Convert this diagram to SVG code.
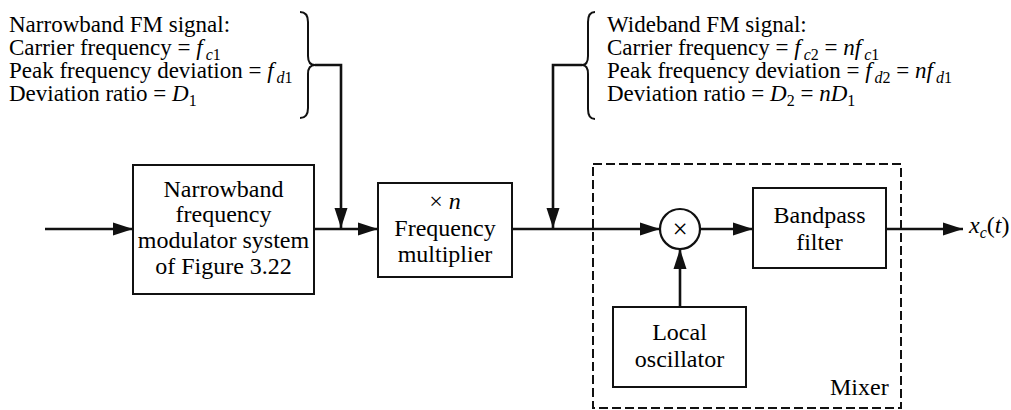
<svg xmlns="http://www.w3.org/2000/svg" width="1011" height="410" viewBox="0 0 1011 410" font-family="'Liberation Serif', 'DejaVu Serif', serif">
<style>
text{font-family:'Liberation Serif','DejaVu Serif',serif;font-size:23px;fill:#000}
.b{font-size:24px}
.c{text-anchor:middle}
.i{font-style:italic}
.s{font-size:16px}
.box{fill:none;stroke:#111;stroke-width:2}
.wire{fill:none;stroke:#111;stroke-width:2.6}
.brace{fill:none;stroke:#111;stroke-width:2}
.dash{fill:none;stroke:#111;stroke-width:2;stroke-dasharray:9 4}
</style>
<defs>
<marker id="ah" markerUnits="userSpaceOnUse" markerWidth="22" markerHeight="14" refX="20" refY="7" orient="auto">
<path d="M0,0.5 L20,7 L0,13.5 Z" fill="#111"/>
</marker>
</defs>

<g id="nb-label">
<text x="9" y="32">Narrowband FM signal:</text>
<text x="9" y="55">Carrier frequency = <tspan class="i">f</tspan><tspan class="s" dx="3" dy="5"><tspan class="i">c</tspan>1</tspan></text>
<text x="9" y="78">Peak frequency deviation = <tspan class="i">f</tspan><tspan class="s" dx="3" dy="5"><tspan class="i">d</tspan>1</tspan></text>
<text x="9" y="101">Deviation ratio = <tspan class="i">D</tspan><tspan class="s" dy="5">1</tspan></text>
<path class="brace" d="M300,12 Q308,12 308,22 L308,56 Q308,65 315,65 Q308,65 308,74 L308,108 Q308,118 300,118"/>
</g>

<g id="wb-label">
<text x="607" y="32">Wideband FM signal:</text>
<text x="607" y="55">Carrier frequency = <tspan class="i">f</tspan><tspan class="s" dx="3" dy="5"><tspan class="i">c</tspan>2</tspan><tspan dy="-5"> = </tspan><tspan class="i">nf</tspan><tspan class="s" dx="3" dy="5"><tspan class="i">c</tspan>1</tspan></text>
<text x="607" y="78">Peak frequency deviation = <tspan class="i">f</tspan><tspan class="s" dx="3" dy="5"><tspan class="i">d</tspan>2</tspan><tspan dy="-5"> = </tspan><tspan class="i">nf</tspan><tspan class="s" dx="3" dy="5"><tspan class="i">d</tspan>1</tspan></text>
<text x="607" y="101">Deviation ratio = <tspan class="i">D</tspan><tspan class="s" dy="5">2</tspan><tspan dy="-5"> = </tspan><tspan class="i">nD</tspan><tspan class="s" dy="5">1</tspan></text>
<path class="brace" d="M595,12 Q588,12 588,22 L588,56 Q588,65 582,65 Q588,65 588,74 L588,109 Q588,119 595,119"/>
</g>

<g id="nb-modulator">
<rect class="box" x="133" y="165" width="181" height="129"/>
<text class="c b" x="223.5" y="197">Narrowband</text>
<text class="c b" x="223.5" y="222">frequency</text>
<text class="c b" x="223.5" y="248">modulator system</text>
<text class="c b" x="223.5" y="274">of Figure 3.22</text>
</g>

<g id="freq-mult">
<rect class="box" x="378" y="183" width="134" height="94"/>
<text class="c b" x="445" y="209">× <tspan class="i">n</tspan></text>
<text class="c b" x="445" y="236">Frequency</text>
<text class="c b" x="445" y="262">multiplier</text>
</g>

<g id="mixer">
<rect class="dash" x="593" y="164" width="308" height="244"/>
<text class="b" x="830" y="395">Mixer</text>
</g>

<g id="multiplier">
<circle cx="680" cy="229" r="20" fill="none" stroke="#111" stroke-width="2.2"/>
<text class="c" x="680" y="238" style="font-size:27px">×</text>
</g>

<g id="bpf">
<rect class="box" x="753" y="188" width="133" height="80"/>
<text class="c b" x="819.5" y="223">Bandpass</text>
<text class="c b" x="819.5" y="250">filter</text>
</g>

<g id="lo">
<rect class="box" x="613" y="307" width="133" height="80"/>
<text class="c b" x="679.5" y="340">Local</text>
<text class="c b" x="679.5" y="367">oscillator</text>
</g>

<g id="output">
<text class="b" x="969" y="233"><tspan class="i">x</tspan><tspan class="s i" dy="5">c</tspan><tspan dy="-5">(</tspan><tspan class="i">t</tspan>)</text>
</g>

<g id="connectors">
<path class="wire" d="M45,229 H133" marker-end="url(#ah)"/>
<path class="wire" d="M314,229 H378" marker-end="url(#ah)"/>
<path class="wire" d="M315,65 H341 V228" marker-end="url(#ah)"/>
<path class="wire" d="M512,229 H660" marker-end="url(#ah)"/>
<path class="wire" d="M582,65 H553 V228" marker-end="url(#ah)"/>
<path class="wire" d="M700,229 H753" marker-end="url(#ah)"/>
<path class="wire" d="M680,307 V249" marker-end="url(#ah)"/>
<path class="wire" d="M886,229 H963" marker-end="url(#ah)"/>
</g>
</svg>
